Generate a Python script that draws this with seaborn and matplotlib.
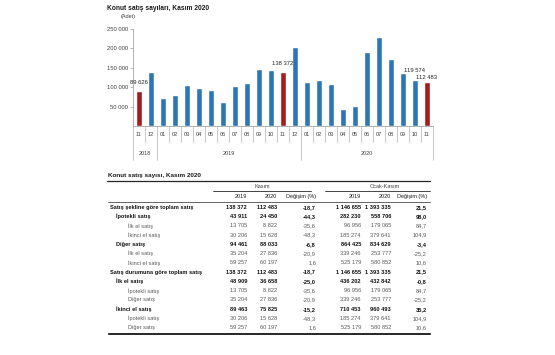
import numpy as np
import pandas as pd
import matplotlib.pyplot as plt
import matplotlib.transforms as mtransforms
import seaborn as sns

sns.set_style('white')
plt.rcParams['font.family'] = ['Liberation Sans', 'DejaVu Sans']

# --- bar chart data ---
months = ['11', '12', '01', '02', '03', '04', '05', '06', '07', '08', '09', '10', '11', '12',
          '01', '02', '03', '04', '05', '06', '07', '08', '09', '10', '11']
years = ['2018'] * 2 + ['2019'] * 12 + ['2020'] * 11
sales = [89626, 139000, 73000, 79000, 105700, 97000, 92800, 62000, 103000, 111600,
         147700, 144300, 138372, 202800, 114200, 119300, 108200, 43000, 51500,
         191500, 230000, 171900, 136600, 119574, 112483]
labelled = [0, 12, 23, 24]
yticks = [50000, 100000, 150000, 200000, 250000]

# --- table data ---
row_labels = ['Satış şekline göre toplam satış', 'İpotekli satış', 'İlk el satış', 'İkinci el satış',
              'Diğer satış', 'İlk el satış', 'İkinci el satış',
              'Satış durumuna göre toplam satış', 'İlk el satış', 'İpotekli satış', 'Diğer satış',
              'İkinci el satış', 'İpotekli satış', 'Diğer satış']
row_level = [0, 1, 2, 2, 1, 2, 2, 0, 1, 2, 2, 1, 2, 2]
kasim_2019 = ['138 372', '43 911', '13 705', '30 206', '94 461', '35 204', '59 257',
              '138 372', '48 909', '13 705', '35 204', '89 463', '30 206', '59 257']
kasim_2020 = ['112 483', '24 450', '8 822', '15 628', '88 033', '27 836', '60 197',
              '112 483', '36 658', '8 822', '27 836', '75 825', '15 628', '60 197']
kasim_deg = ['-18,7', '-44,3', '-35,6', '-48,3', '-6,8', '-20,9', '1,6',
             '-18,7', '-25,0', '-35,6', '-20,9', '-15,2', '-48,3', '1,6']
ok_2019 = ['1 146 655', '282 230', '96 956', '185 274', '864 425', '339 246', '525 179',
           '1 146 655', '436 202', '96 956', '339 246', '710 453', '185 274', '525 179']
ok_2020 = ['1 393 335', '558 706', '179 065', '379 641', '834 629', '253 777', '580 852',
           '1 393 335', '432 842', '179 065', '253 777', '960 493', '379 641', '580 852']
ok_deg = ['21,5', '98,0', '84,7', '104,9', '-3,4', '-25,2', '10,6',
          '21,5', '-0,8', '84,7', '-25,2', '35,2', '104,9', '10,6']

W, H = 555, 355
fig = plt.figure(figsize=(W / 100, H / 100), dpi=100)
cv = fig.add_axes([0, 0, 1, 1], zorder=-1)
cv.set_xlim(0, W)
cv.set_ylim(H, 0)
cv.axis('off')

ax = fig.add_axes([133 / W, 1 - 126 / H, 300 / W, 97 / H])
df = pd.DataFrame({'key': [f'{y}-{m}' for y, m in zip(years, months)],
                   'sales': sales,
                   'kind': ['nov' if m == '11' else 'other' for m in months]})
sns.barplot(data=df, x='key', y='sales', hue='kind', dodge=False, width=0.42,
            palette={'nov': '#a51c1f', 'other': '#2e75b6'}, legend=False, ax=ax,
            saturation=1)
ax.set_xlim(-0.5, len(sales) - 0.5)
ax.set_ylim(0, 250000)
ax.set_xlabel('')
ax.set_ylabel('')
ax.set_xticks([])
ax.set_yticks(yticks)
ax.set_yticklabels([f'{v:,}'.replace(',', ' ') for v in yticks], fontsize=4.2, color='#404040')
ax.tick_params(axis='y', length=2, width=0.5, color='#a0a0a0', pad=1.5, left=True)
for s in ['top', 'right']:
    ax.spines[s].set_visible(False)
for s in ['left', 'bottom']:
    ax.spines[s].set_color('#a6a6a6')
    ax.spines[s].set_linewidth(0.6)

for i in labelled:
    ax.annotate(f'{sales[i]:,}'.replace(',', ' '), (i, sales[i]),
                xytext=(0, 4.5 if i != 24 else 2), textcoords='offset points',
                ha='center', va='bottom', fontsize=4.2, color='#262626')

tr = mtransforms.blended_transform_factory(ax.transData, ax.transAxes)
for i, m in enumerate(months):
    ax.text(i, -9 / 97, m, transform=tr, ha='center', va='center', fontsize=4, color='#404040')
bounds = [0]
for i in range(1, len(years)):
    if years[i] != years[i - 1]:
        bounds.append(i)
bounds.append(len(years))
for i in range(len(years) + 1):
    low = -34 / 97 if i in bounds else -16 / 97
    ax.plot([i - 0.5, i - 0.5], [0, low], transform=tr, color='#bfbfbf', lw=0.6, clip_on=False)
for a, b in zip(bounds[:-1], bounds[1:]):
    ax.text((a + b - 1) / 2, -27 / 97, years[a], transform=tr, ha='center', va='center',
            fontsize=4, color='#404040')

cv.text(107, 9, 'Konut satış sayıları, Kasım 2020', fontsize=4.8, fontweight='bold',
        va='center', ha='left', color='#1a1a1a')
cv.text(121, 16.7, '(Adet)', fontsize=4, va='center', ha='left', color='#404040')

# --- table ---
cv.text(108.5, 175.7, 'Konut satış sayısı, Kasım 2020', fontsize=4.6, fontweight='bold',
        va='center', ha='left', color='#1a1a1a')
cv.plot([107, 430], [181, 181], color='#262626', lw=0.9)
cv.plot([213, 311], [190.7, 190.7], color='#262626', lw=0.6)
cv.plot([325, 430], [190.7, 190.7], color='#262626', lw=0.6)
cv.plot([108, 430], [201.5, 201.5], color='#262626', lw=0.5)
cv.plot([108, 430], [332.6, 332.6], color='#262626', lw=0.7)
cv.plot([108, 430], [334.0, 334.0], color='#262626', lw=0.7)
cv.text(262, 187, 'Kasım', fontsize=4, ha='center', va='center', color='#404040')
cv.text(385, 187, 'Ocak-Kasım', fontsize=4, ha='center', va='center', color='#404040')

col_x = [247, 277, 316, 361, 391, 427]
headers = ['2019', '2020', 'Değişim (%)', '2019', '2020', 'Değişim (%)']
for x, h in zip(col_x, headers):
    cv.text(x, 196.5, h, fontsize=4, ha='right', va='center', color='#1a1a1a')

indent = [110.5, 115.5, 128]
cols = [kasim_2019, kasim_2020, kasim_deg, ok_2019, ok_2020, ok_deg]
for r, lab in enumerate(row_labels):
    y = 207.3 + 9.26 * r
    lvl = row_level[r]
    bold = lvl < 2
    col = '#111111' if bold else '#595959'
    fw = 'bold' if bold else 'normal'
    cv.text(indent[lvl], y, lab, fontsize=4.1, fontweight=fw, ha='left', va='center', color=col)
    for x, c in zip(col_x, cols):
        cv.text(x, y, c[r], fontsize=4.1, fontweight=fw, ha='right', va='center', color=col)

fig.savefig('out.png', dpi=100)
